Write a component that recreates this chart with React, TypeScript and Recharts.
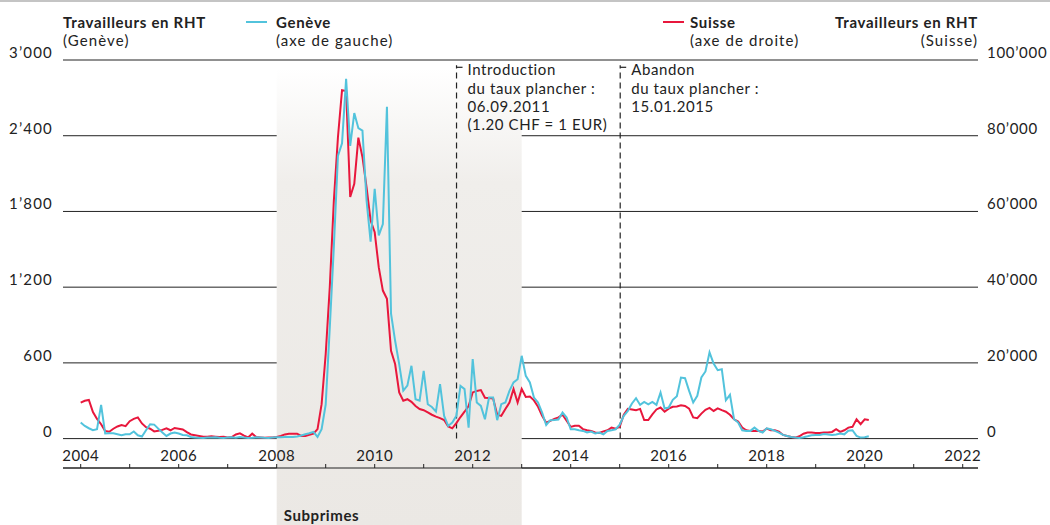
import React from 'react';
import { ComposedChart, Line, XAxis, YAxis, CartesianGrid, ReferenceArea, ReferenceLine } from 'recharts';

// monthly series, first value = January 2004
const startYear = 2004;

// workers on short-time work (RHT), Geneva, left axis
const geneva = [
  127, 100, 82, 66, 74, 267, 40, 42, 42, 34, 26, 34,
  34, 56, 26, 16, 66, 114, 111, 79, 48, 21, 40, 48,
  40, 29, 26, 13, 8, 6, 5, 8, 8, 10, 6, 5,
  8, 10, 6, 12, 8, 5, 6, 10, 8, 6, 5, 8,
  10, 10, 12, 12, 13, 16, 24, 34, 42, 53, 13, 74,
  270, 880, 1520, 2240, 2340, 2850, 2320, 2580, 2460, 2440, 1890, 1560,
  1980, 1610, 1700, 2630, 990, 775, 590, 380, 420, 577, 312, 300,
  537, 272, 250, 214, 431, 180, 100, 127, 180, 418, 392, 87,
  630, 286, 259, 153, 325, 325, 146, 273, 286, 378, 445, 471,
  656, 497, 445, 325, 286, 206, 108, 146, 148, 151, 206, 167,
  74, 74, 66, 61, 48, 56, 40, 48, 34, 61, 66, 74,
  110, 180, 220, 278, 320, 267, 291, 272, 291, 267, 365, 238,
  246, 307, 336, 484, 479, 378, 286, 339, 484, 532, 683, 595,
  542, 550, 304, 347, 153, 127, 66, 61, 61, 87, 61, 48,
  82, 74, 61, 48, 29, 21, 13, 8, 5, 11, 18, 26,
  29, 29, 37, 32, 29, 32, 40, 34, 63, 66, 21, 8,
  11, 18,
];

// workers on short-time work (RHT), Switzerland, right axis
const suisse = [
  9500, 10000, 10200, 7000, 5200, 3800, 2000, 1800, 2600, 3200, 3600, 3300,
  4600, 5200, 5600, 4000, 3000, 2600, 1900, 2100, 2300, 2700, 2200, 2800,
  2600, 2400, 1700, 1100, 900, 700, 500, 500, 600, 500, 400, 500,
  300, 400, 1100, 1400, 800, 300, 1300, 400, 300, 200, 300, 300,
  400, 700, 1100, 1300, 1300, 1300, 700, 700, 1000, 1300, 2500, 9100,
  22300, 40000, 62900, 79600, 92000, 91800, 63800, 67300, 79500, 74400, 66400, 57600,
  54500, 45200, 39100, 36900, 23200, 19700, 12200, 10000, 10400, 9700, 8600, 7800,
  7500, 6900, 6300, 5800, 5400, 4900, 3200, 2700, 4100, 5700, 7100, 8600,
  12200, 12600, 12800, 10800, 10700, 10600, 6300, 6000, 7800, 9500, 13100, 9500,
  13100, 11000, 11100, 10100, 8400, 6000, 4200, 4700, 5200, 5600, 6300, 4700,
  3100, 3400, 3400, 2500, 2200, 2000, 1600, 1500, 1900, 2200, 2900, 2600,
  3100, 6300, 7850, 7700, 7500, 7850, 4900, 4900, 6400, 7700, 8200, 7100,
  7900, 8400, 8500, 8800, 8600, 7900, 5600, 5400, 6600, 7600, 8100, 7300,
  8000, 7500, 7100, 6300, 5100, 4500, 2900, 2200, 2000, 2000, 2000, 1850,
  2650, 2200, 2200, 1850, 970, 700, 440, 260, 620, 1300, 1600, 1600,
  1500, 1500, 1600, 1600, 1760, 2500, 1760, 2200, 2900, 3100, 5100, 3800,
  5100, 4900,
];

const leftTicks = [0, 600, 1200, 1800, 2400, 3000];
const rightTicks = [0, 20000, 40000, 60000, 80000, 100000];
const yearTicks = [
  2004, 2005, 2006, 2007, 2008, 2009, 2010, 2011, 2012, 2013,
  2014, 2015, 2016, 2017, 2018, 2019, 2020, 2021, 2022,
];

const subprimes = { from: 2008, to: 2013, label: 'Subprimes' };

const events = [
  { date: 2011.67, lines: ['Introduction', 'du taux plancher :', '06.09.2011', '(1.20 CHF = 1 EUR)'] },
  { date: 2015.01, lines: ['Abandon', 'du taux plancher :', '15.01.2015'] },
];

const rows = geneva.map((g, i) => ({ t: startYear + i / 12, geneva: g, suisse: suisse[i] }));

// Lato keeps the two-line labels from colliding at 18px spacing
const FONT = 'Lato, "Open Sans", sans-serif';
const FS = 15;
const LH = 18.2;
const INK = '#222';
const CYAN = '#52c3dc';
const RED = '#e8173c';

const fmt = (v: number) => String(v).replace(/\B(?=(\d{3})+(?!\d))/g, '\u2019');

const LeftTick = ({ x, y, payload }: any) => (
  <text x={x} y={y} dy={-2} textAnchor="end" fill={INK} fontSize={FS} fontFamily={FONT} letterSpacing={1.2}>
    {fmt(payload.value)}
  </text>
);

const RightTick = ({ x, y, payload }: any) => (
  <text x={x} y={y} dy={-2} textAnchor="start" fill={INK} fontSize={FS} fontFamily={FONT} letterSpacing={0.7}>
    {fmt(payload.value)}
  </text>
);

const eventLabel = (lines: string[]) => (props: any) => {
  const vb = props.viewBox || {};
  const x = vb.x;
  const y = vb.y;
  return (
    <g>
      <path d={`M${x},${y + 2} h6`} stroke={INK} strokeWidth={1.2} />
      {lines.map((l, i) => (
        <text key={i} x={x + 11} y={y + 10 + i * LH} fill={INK} fontSize={FS} fontFamily={FONT} letterSpacing={0.6}>
          {l}
        </text>
      ))}
    </g>
  );
};

const areaLabel = (props: any) => {
  const vb = props.viewBox || {};
  return (
    <text x={vb.x + 7} y={vb.y + vb.height - 6} fill={INK} fontSize={FS} fontWeight={700} fontFamily={FONT} letterSpacing={0.6}>
      {subprimes.label}
    </text>
  );
};

const txt: React.CSSProperties = {
  position: 'absolute',
  fontFamily: FONT,
  fontSize: FS,
  color: INK,
  lineHeight: `${LH}px`,
  letterSpacing: 1.1,
  whiteSpace: 'nowrap',
};
const bold: React.CSSProperties = { fontWeight: 700, letterSpacing: 0.7 };

export default function App() {
  return (
    <div style={{ position: 'absolute', left: 0, top: 0, width: 1050, height: 525, background: '#fff', overflow: 'hidden' }}>
      <div style={{ position: 'absolute', left: 0, top: 0, width: 1050, height: 2, background: '#c4c4c4' }} />

      <div style={{ ...txt, left: 63, top: 13 }}>
        <span style={bold}>Travailleurs en RHT</span>
        <br />
        (Genève)
      </div>
      <div style={{ position: 'absolute', left: 246, top: 21, width: 21, height: 2, background: CYAN }} />
      <div style={{ ...txt, left: 276, top: 13 }}>
        <span style={bold}>Genève</span>
        <br />
        (axe de gauche)
      </div>
      <div style={{ position: 'absolute', left: 663, top: 21, width: 21, height: 2, background: RED }} />
      <div style={{ ...txt, left: 690, top: 13 }}>
        <span style={bold}>Suisse</span>
        <br />
        (axe de droite)
      </div>
      <div style={{ ...txt, right: 1050 - 978, top: 13, textAlign: 'right' }}>
        <span style={bold}>Travailleurs en RHT</span>
        <br />
        (Suisse)
      </div>

      <div style={{ position: 'absolute', left: 0, top: 0 }}>
        <ComposedChart width={1050} height={525} data={rows} margin={{ top: 60, right: 0, bottom: 57, left: 0 }}>
          <defs>
            <linearGradient id="shade" x1="0" y1="0" x2="0" y2="1">
              <stop offset="0" stopColor="#ffffff" />
              <stop offset="0.25" stopColor="#f0eeeb" />
              <stop offset="1" stopColor="#ebe8e4" />
            </linearGradient>
          </defs>
          <ReferenceArea
            yAxisId="left"
            x1={subprimes.from}
            x2={subprimes.to}
            y1={-700}
            y2={2935}
            ifOverflow="visible"
            fill="url(#shade)"
            fillOpacity={1}
            stroke="none"
            label={areaLabel}
          />
          <CartesianGrid yAxisId="left" vertical={false} stroke={INK} strokeWidth={1} />
          <XAxis
            dataKey="t"
            type="number"
            domain={[2003.639, 2022.312]}
            allowDataOverflow
            ticks={yearTicks}
            interval={0}
            tickFormatter={(v: number) => (v % 2 === 0 ? String(v) : '')}
            mirror
            height={1}
            tickSize={4}
            tickMargin={3}
            axisLine={{ stroke: INK }}
            tickLine={{ stroke: INK }}
            tick={{ fill: INK, fontSize: FS, fontFamily: FONT, letterSpacing: 0.5 }}
          />
          <YAxis
            yAxisId="left"
            domain={[-233, 3000]}
            allowDataOverflow
            ticks={leftTicks}
            interval={0}
            width={63}
            axisLine={false}
            tickLine={false}
            tickSize={0}
            tickMargin={10}
            tick={<LeftTick />}
          />
          <YAxis
            yAxisId="right"
            orientation="right"
            domain={[-7767, 100000]}
            allowDataOverflow
            ticks={rightTicks}
            interval={0}
            width={72}
            axisLine={false}
            tickLine={false}
            tickSize={0}
            tickMargin={9}
            tick={<RightTick />}
          />
          {events.map((e) => (
            <ReferenceLine
              key={e.date}
              yAxisId="left"
              segment={[{ x: e.date, y: 0 }, { x: e.date, y: 2958 }]}
              stroke={INK}
              strokeWidth={1.2}
              strokeDasharray="6 4"
              ifOverflow="visible"
              label={eventLabel(e.lines)}
            />
          ))}
          <Line
            yAxisId="right"
            type="linear"
            dataKey="suisse"
            stroke={RED}
            strokeWidth={2}
            dot={false}
            isAnimationActive={false}
          />
          <Line
            yAxisId="left"
            type="linear"
            dataKey="geneva"
            stroke={CYAN}
            strokeWidth={2}
            dot={false}
            isAnimationActive={false}
          />
        </ComposedChart>
      </div>
    </div>
  );
}
